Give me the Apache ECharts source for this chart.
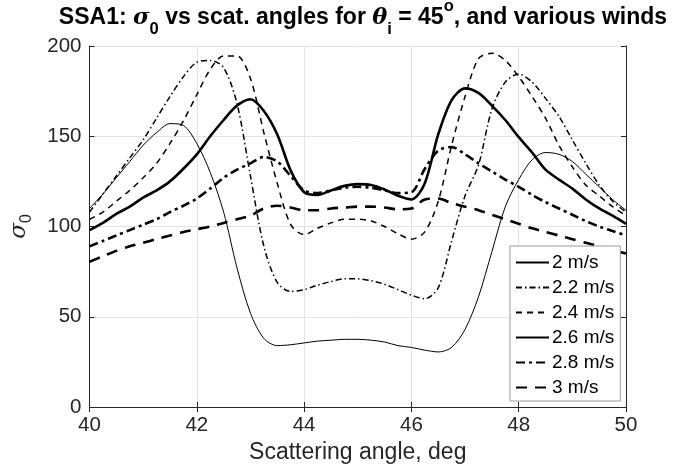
<!DOCTYPE html>
<html>
<head>
<meta charset="utf-8">
<script src="https://cdn.jsdelivr.net/npm/echarts@6/dist/echarts.min.js"></script>
<style>
  html, body { margin: 0; padding: 0; background: #fff; }
  #sigmaChart { width: 677px; height: 474px; }
</style>
</head>
<body>
<div id="sigmaChart"></div>
<script>
// scattering angle, deg (shared by all curves)
var angles = [40, 40.25, 40.5, 40.75, 41, 41.25, 41.5, 41.75, 42, 42.25, 42.5, 42.75,
  43, 43.25, 43.5, 43.75, 44, 44.25, 44.5, 44.75, 45, 45.25, 45.5, 45.75,
  46, 46.25, 46.5, 46.75, 47, 47.25, 47.5, 47.75, 48, 48.25, 48.5, 48.75,
  49, 49.25, 49.5, 49.75, 50]

var sigma2p0 = [110, 118, 127, 136, 145, 152, 157, 156, 146, 130, 108, 77,
  52, 38, 34, 34.5, 35.5, 36.5, 37, 37.5, 37.5, 37, 36, 34,
  33, 31.5, 30.5, 33, 43, 61, 86, 111, 126, 137, 141, 140,
  136, 129, 122, 115, 109]
var sigma2p2 = [108, 118, 128, 138, 148, 160, 172, 183, 191, 192, 188, 168,
  128, 89, 69, 64, 65, 67.5, 69.5, 71, 71, 70, 68, 65,
  62, 60, 66, 92, 117, 134, 165, 180, 184.5, 180, 171, 161,
  148, 135, 123, 114, 108]
var sigma2p4 = [104, 108, 114, 120, 127, 135, 146, 158.5, 173, 187, 194.5, 194.5,
  182, 152, 124, 101, 95.5, 99, 102, 104, 104, 103, 100, 96,
  93, 97, 114, 145, 172, 193, 196, 192, 183, 172, 160, 145,
  133, 123, 117, 111, 106]
var sigma2p6 = [98, 102, 107, 111, 116, 120, 125, 132, 140, 150, 159, 167,
  170.5, 164, 151, 131, 119, 117.5, 120, 122.5, 123.5, 123, 120.5, 117,
  115, 124, 151, 170, 176.5, 174, 167, 159, 149.5, 141, 131.5, 126,
  121, 115, 110, 106, 101.5]
var sigma2p8 = [89, 92, 95, 98, 101, 104, 108, 111.5, 115.5, 121, 127, 131.5,
  135, 138.5, 136, 128, 120, 118.5, 120, 121.5, 122, 121.5, 120, 118.5,
  119, 132, 142, 144, 140, 135, 130.5, 126, 122, 117.5, 113.5, 110,
  106.5, 103, 100, 97.5, 95]
var sigma3p0 = [80.5, 83.5, 86.5, 89, 91, 93, 95, 97, 98.5, 100, 102, 104,
  106, 110, 111.5, 110.5, 109, 109, 110, 110.5, 111, 111, 110.5, 109.5,
  110, 115, 115.5, 113, 111, 109, 106.5, 104, 101.5, 99, 97, 95,
  93, 91, 89, 87, 85]

var windNames = ['2 m/s', '2.2 m/s', '2.4 m/s', '2.6 m/s', '2.8 m/s', '3 m/s']

var FONT = 'Liberation Sans, Arial, Helvetica, sans-serif'
var GREEK = 'DejaVu Serif, serif'
var INK = '#262626'

var sigmaChart = echarts.init(document.getElementById('sigmaChart'))

function curve(name, values, width, dash) {
  return {
    name: name,
    type: 'line',
    symbol: 'none',
    smooth: 0.3,
    data: angles.map(function(a, i) { return [a, values[i]] }),
    lineStyle: { color: '#000', width: width, type: dash },
    itemStyle: { color: '#000' }
  }
}

var option = {
  animation: false,
  backgroundColor: '#fff',
  title: {
    left: 363,
    top: -2,
    padding: 0,
    textAlign: 'center',
    text: '{b|SSA1: }{g|σ}{sub|0}{b| vs scat. angles for }{g|θ}{sub|i}{b| = 45}{sup|o}{b|, and various winds}',
    textStyle: {
      fontFamily: FONT,
      rich: {
        b: { fontFamily: FONT, fontSize: 23, fontWeight: 'bold', color: '#000', lineHeight: 40 },
        g: { fontFamily: GREEK, fontStyle: 'italic', fontSize: 22.5, color: '#000', lineHeight: 40 },
        sub: { fontFamily: FONT, fontSize: 16.5, fontWeight: 'bold', color: '#000', lineHeight: 14, verticalAlign: 'bottom' },
        sup: { fontFamily: FONT, fontSize: 16.5, fontWeight: 'bold', color: '#000', lineHeight: 24, verticalAlign: 'top' }
      }
    }
  },
  grid: {
    left: 89,
    right: 51,
    top: 46,
    bottom: 67
  },
  legend: {
    orient: 'vertical',
    left: 510,
    top: 246,
    data: windNames,
    itemWidth: 33,
    itemHeight: 14,
    itemGap: 6,
    padding: [7, 6, 4, 5],
    backgroundColor: '#fff',
    borderColor: '#9a9a9a',
    borderWidth: 1,
    borderRadius: 0,
    itemStyle: { opacity: 0 },
    textStyle: { fontFamily: FONT, fontSize: 19, lineHeight: 19, color: '#000', padding: [0, 0, 0, -2] }
  },
  xAxis: [{
    type: 'value',
    min: 40,
    max: 50,
    interval: 2,
    name: 'Scattering angle, deg',
    nameLocation: 'middle',
    nameGap: 34,
    nameTextStyle: { fontFamily: FONT, fontSize: 23, color: INK },
    axisLine: { lineStyle: { color: INK, width: 1 } },
    axisTick: { inside: true, length: 5, lineStyle: { color: INK } },
    axisLabel: { fontFamily: FONT, fontSize: 20.5, color: INK, margin: 8 },
    splitLine: { show: true, lineStyle: { color: '#e3e3e3', width: 1 } }
  }, {
    type: 'value',
    position: 'top',
    min: 40,
    max: 50,
    interval: 2,
    axisLine: { show: true, lineStyle: { color: INK, width: 1 } },
    axisTick: { inside: true, length: 5, lineStyle: { color: INK } },
    axisLabel: { show: false },
    splitLine: { show: false }
  }],
  yAxis: [{
    type: 'value',
    min: 0,
    max: 200,
    interval: 50,
    name: '{g|σ}{sub|0}',
    nameLocation: 'middle',
    nameRotate: 90,
    nameGap: 55,
    nameTextStyle: {
      rich: {
        g: { fontFamily: GREEK, fontStyle: 'italic', fontSize: 23, color: INK, lineHeight: 30 },
        sub: { fontFamily: FONT, fontSize: 16, color: INK, lineHeight: 14, verticalAlign: 'bottom' }
      }
    },
    axisLine: { show: true, lineStyle: { color: INK, width: 1 } },
    axisTick: { show: true, inside: true, length: 5, lineStyle: { color: INK } },
    axisLabel: { fontFamily: FONT, fontSize: 20.5, color: INK, margin: 8 },
    splitLine: { show: true, lineStyle: { color: '#e3e3e3', width: 1 } }
  }, {
    type: 'value',
    position: 'right',
    min: 0,
    max: 200,
    interval: 50,
    axisLine: { show: true, lineStyle: { color: INK, width: 1 } },
    axisTick: { show: true, inside: true, length: 5, lineStyle: { color: INK } },
    axisLabel: { show: false },
    splitLine: { show: false }
  }],
  series: [
    curve(windNames[0], sigma2p0, 1, 'solid'),
    curve(windNames[1], sigma2p2, 1.5, [6, 3, 1.5, 3]),
    curve(windNames[2], sigma2p4, 1.5, [6, 5]),
    curve(windNames[3], sigma2p6, 2.6, 'solid'),
    curve(windNames[4], sigma2p8, 2.6, [9, 4, 3, 4]),
    curve(windNames[5], sigma3p0, 2.6, [11, 8])
  ]
}

sigmaChart.setOption(option)
</script>
</body>
</html>
